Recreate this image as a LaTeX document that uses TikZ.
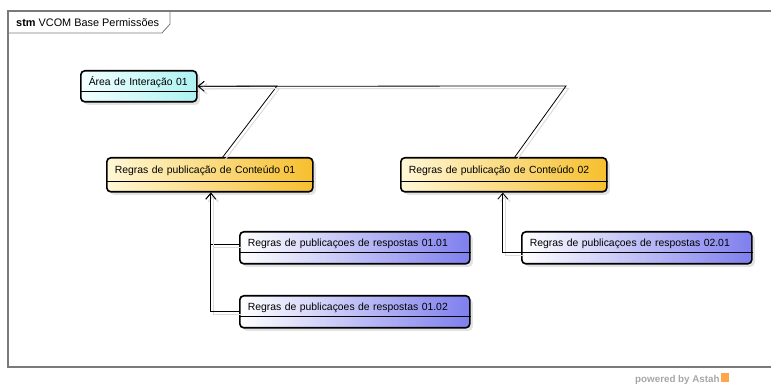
\documentclass[tikz,border=0pt]{standalone}
\usepackage{fontspec}
\setmainfont{Liberation Sans}
\usepackage{xcolor}
\usepackage{tikz}
\usetikzlibrary{arrows.meta,shadows}

\definecolor{areaL}{HTML}{F2FFFF}
\definecolor{areaR}{HTML}{AEF2F2}
\definecolor{regraL}{HTML}{FFF7D6}
\definecolor{regraR}{HTML}{F6BF2E}
\definecolor{respL}{HTML}{FFFFFF}
\definecolor{respR}{HTML}{7F7FEE}
\definecolor{framegray}{HTML}{7A7A7A}

\tikzset{
  state/.style={draw, line width=1.6pt, rounded corners=4pt,
    inner xsep=8pt, inner ysep=0pt, align=left,
    font=\fontsize{10.4}{12}\selectfont,
    drop shadow={shadow xshift=3pt, shadow yshift=-3pt, opacity=.22}},
  areabox/.style={state, left color=areaL, right color=areaR,
    text width=100pt, text height=15pt, text depth=16pt},
  regrabox/.style={state, left color=regraL, right color=regraR,
    text width=190pt, text height=16pt, text depth=18pt},
  respbox/.style={state, left color=respL, right color=respR,
    text width=214pt, text height=15pt, text depth=17pt},
  divider/.style={line width=0.8pt},
  wire/.style={line width=0.8pt,
    preaction={draw=black!14, line width=1pt,
      transform canvas={xshift=2.5pt, yshift=-2.5pt}}},
  tip/.style={-{Straight Barb[length=6pt, width=10pt]}}
}

\begin{document}
\begin{tikzpicture}[x=1pt, y=-1pt]
    \useasboundingbox (0,0) rectangle (771,387);

    % Frame and title tab (frame runs past the right edge)
    \draw[framegray, line width=1.2pt] (771,11) -- (8,11) -- (8,367) -- (771,367);
    \draw[framegray, line width=0.8pt] (8,33) -- (162,33) -- (170,24) -- (170,11);
    \node[anchor=base west, font=\fontsize{10.9}{12}\selectfont, inner sep=0pt]
      (title) at (16,27) {\textbf{stm} VCOM Base Permissões};

    % States
    \node[areabox, anchor=north west] (area) at (80,70) {Área de Interação 01};
    \node[regrabox, anchor=north west] (c1) at (106,157) {Regras de publicação de Conteúdo 01};
    \node[regrabox, anchor=north west] (c2) at (400,157) {Regras de publicação de Conteúdo 02};
    \node[respbox, anchor=north west] (r11) at (239,231) {Regras de publicaçoes de respostas 01.01};
    \node[respbox, anchor=north west] (r12) at (239,295) {Regras de publicaçoes de respostas 01.02};
    \node[respbox, anchor=north west] (r21) at (521,231) {Regras de publicaçoes de respostas 02.01};

    % Compartment lines
    \foreach \n/\d in {area/21, c1/24, c2/24, r11/21, r12/21, r21/21}
      \draw[divider] ([yshift=-\d pt]\n.north west) -- ([yshift=-\d pt]\n.north east);

    % Bends
    \coordinate (j1) at (277,86);
    \coordinate (j2) at (566,86);

    % Transitions
    \draw[wire, tip] ([xshift=13pt]c1.north) -- (j1) -- (area.east);
    \draw[wire, tip] ([xshift=11pt]c2.north) -- (j2) -- (area.east);
    \draw[wire, tip] ([yshift=3pt]r11.west) -| ([xshift=1pt]c1.south);
    \draw[wire, tip] (r12.west) -| ([xshift=1pt]c1.south);
    \draw[wire, tip] ([yshift=-5pt]r21.west) -| ([xshift=-1pt]c2.south);

    % Footer
    \node[anchor=base west, inner sep=0pt, text=black!35,
      font=\fontsize{9.8}{11}\selectfont\bfseries] (astah) at (635,382) {powered by Astah};
    \fill[orange!70] ([xshift=1pt]astah.base east) rectangle ++(8,-9);
\end{tikzpicture}
\end{document}
